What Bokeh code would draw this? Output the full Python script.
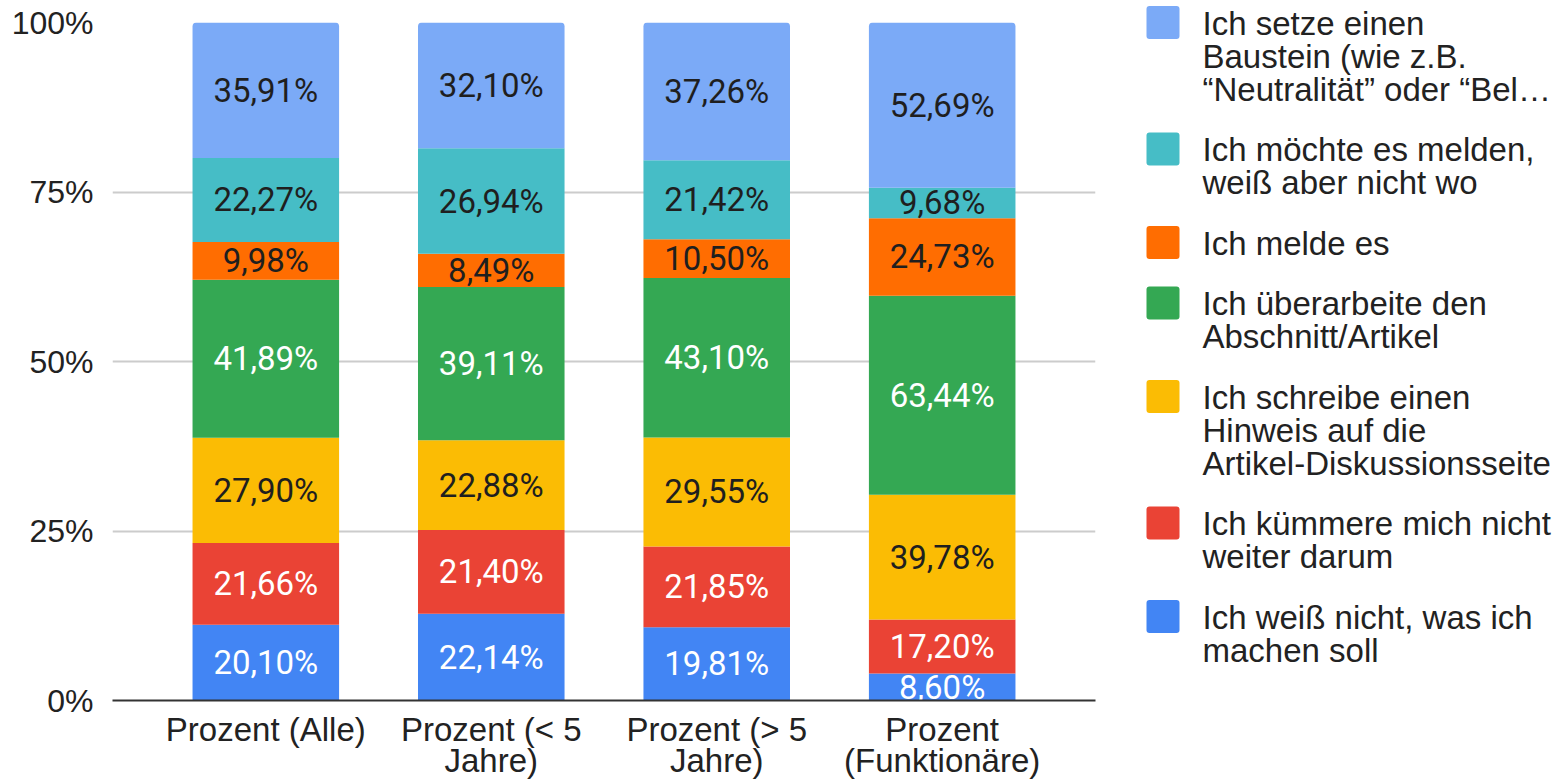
from bokeh.plotting import figure
from bokeh.models import ColumnDataSource, Range1d, FactorRange, FixedTicker, PrintfTickFormatter
from bokeh.layouts import row
from bokeh.embed import file_html
from bokeh.resources import INLINE
from bokeh.core.properties import value

# ---------------- data ----------------
categories = ["Prozent (Alle)", "Prozent (< 5\nJahre)", "Prozent (> 5\nJahre)", "Prozent\n(Funktionäre)"]

# series, from bottom of the stack to top
weiss_nicht = [20.10, 22.14, 19.81, 8.60]
kuemmere = [21.66, 21.40, 21.85, 17.20]
hinweis = [27.90, 22.88, 29.55, 39.78]
ueberarbeite = [41.89, 39.11, 43.10, 63.44]
melde = [9.98, 8.49, 10.50, 24.73]
moechte = [22.27, 26.94, 21.42, 9.68]
baustein = [35.91, 32.10, 37.26, 52.69]

series_keys = ["weiss_nicht", "kuemmere", "hinweis", "ueberarbeite", "melde", "moechte", "baustein"]
series_values = [weiss_nicht, kuemmere, hinweis, ueberarbeite, melde, moechte, baustein]
series_labels = [
    "Ich weiß nicht, was ich\nmachen soll",
    "Ich kümmere mich nicht\nweiter darum",
    "Ich schreibe einen\nHinweis auf die\nArtikel-Diskussionsseite",
    "Ich überarbeite den\nAbschnitt/Artikel",
    "Ich melde es",
    "Ich möchte es melden,\nweiß aber nicht wo",
    "Ich setze einen\nBaustein (wie z.B.\n“Neutralität” oder “Bel…",
]
colors = ["#4285F4", "#EA4335", "#FBBC04", "#34A853", "#FF6D01", "#46BDC6", "#7BAAF7"]
label_colors = ["#ffffff", "#ffffff", "#1f1f1f", "#ffffff", "#1f1f1f", "#1f1f1f", "#1f1f1f"]
y_ticks = [0, 25, 50, 75, 100]

TEXT = "#222222"
AXFONT = "Liberation Sans"

# ---------------- normalised stack ----------------
totals = [sum(v[i] for v in series_values) for i in range(len(categories))]
data = {"cat": categories}
for k, vals in zip(series_keys, series_values):
    data[k] = [v / t * 100 for v, t in zip(vals, totals)]
source = ColumnDataSource(data)

lx, ly, lt, lc = [], [], [], []
for i, cat in enumerate(categories):
    base = 0.0
    for k, vals, col in zip(series_keys, series_values, label_colors):
        h = data[k][i]
        lx.append(cat)
        ly.append(base + h / 2)
        lt.append(f"{vals[i]:.2f}".replace(".", ",") + "%")
        lc.append(col)
        base += h
lsrc = ColumnDataSource(dict(x=lx, y=ly, text=lt, color=lc))

# ---------------- chart ----------------
CH_W = 1130
H = 781
p = figure(
    width=CH_W, height=H,
    x_range=FactorRange(factors=categories, range_padding=0.09),
    y_range=Range1d(0, 100),
    output_backend="svg", toolbar_location=None,
    min_border_left=112, min_border_right=35, min_border_top=22, min_border_bottom=81,
)
p.outline_line_color = None
p.background_fill_color = "white"

renderers = p.vbar_stack(series_keys, x="cat", width=0.65, fill_color=colors,
                         line_color=None, source=source)
try:
    renderers[-1].glyph.border_radius = (4, 4, 0, 0)
except Exception:
    pass

p.text(x="x", y="y", text="text", text_color="color", source=lsrc,
       text_font=value("Roboto"), text_font_size="33px",
       text_align="center", text_baseline="middle")

p.xgrid.visible = False
p.ygrid.grid_line_color = "#cccccc"
p.ygrid.grid_line_width = 2
p.ygrid.ticker = FixedTicker(ticks=y_ticks)

p.yaxis.ticker = FixedTicker(ticks=y_ticks)
p.yaxis.formatter = PrintfTickFormatter(format="%d%%")
p.yaxis.axis_line_color = None
p.yaxis.major_tick_line_color = None
p.yaxis.minor_tick_line_color = None
p.yaxis.major_label_standoff = 13
p.yaxis.major_label_text_font = AXFONT
p.yaxis.major_label_text_font_size = "32px"
p.yaxis.major_label_text_color = TEXT

p.xaxis.axis_line_color = "#333333"
p.xaxis.axis_line_width = 2
p.xaxis.major_tick_line_color = None
p.xaxis.minor_tick_line_color = None
p.xaxis.major_label_standoff = 4
p.xaxis.major_label_text_font = AXFONT
p.xaxis.major_label_text_font_size = "33px"
p.xaxis.major_label_text_color = TEXT
p.xaxis.major_label_text_line_height = 0.85

# ---------------- legend (separate panel, pixel coordinates) ----------------
LG_W = 1561 - CH_W
lg = figure(
    width=LG_W, height=H,
    x_range=Range1d(CH_W, 1561), y_range=Range1d(H, 0),
    output_backend="svg", toolbar_location=None,
    x_axis_type=None, y_axis_type=None,
    min_border=0, min_border_left=0, min_border_right=0, min_border_top=0, min_border_bottom=0,
)
lg.outline_line_color = None
lg.grid.visible = False
for fig in (p, lg):
    try:
        fig.frame_align = False
    except Exception:
        pass

leg_labels = series_labels[::-1]
leg_colors = colors[::-1]
LINE = 33
GAP = 27.5
centers, tx, ty, tt = [], [], [], []
yc = 22
for lab in leg_labels:
    lines = lab.split("\n")
    centers.append(yc)
    for j, ln in enumerate(lines):
        tx.append(1202)
        ty.append(yc + 0.5 + j * LINE)
        tt.append(ln)
    yc += len(lines) * LINE + GAP

sq = dict(x=[1162.5] * len(centers), y=centers, width=33, height=33,
          width_units="screen", height_units="screen",
          fill_color=leg_colors, line_color=None)
try:
    lg.rect(border_radius=3, **sq)
except Exception:
    lg.rect(**sq)

lg.text(x=tx, y=ty, text=tt, text_font=value(AXFONT), text_font_size="33px",
        text_color=TEXT, text_align="left", text_baseline="alphabetic")

layout = row(p, lg)
open("out.html", "w").write(file_html(layout, INLINE))
